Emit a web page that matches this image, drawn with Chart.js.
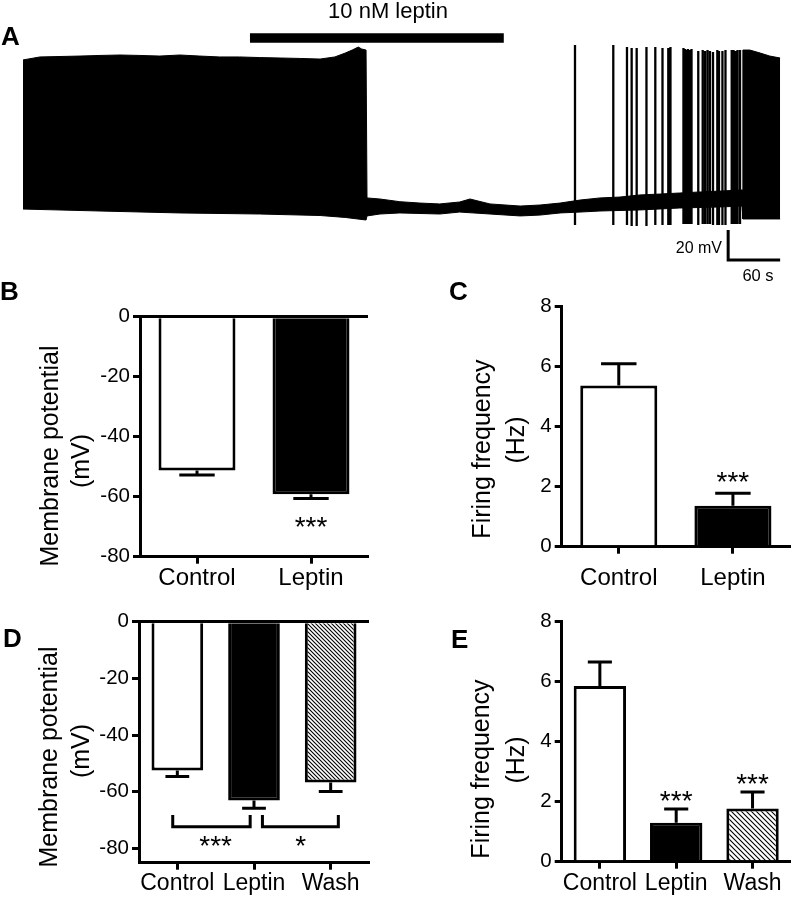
<!DOCTYPE html>
<html>
<head>
<meta charset="utf-8">
<script src="https://cdn.jsdelivr.net/npm/chart.js"></script>
<style>
  html, body { margin: 0; padding: 0; background: #fff; }
  #fig { position: relative; width: 794px; height: 900px; overflow: hidden;
         font-family: "Liberation Sans", Arial, sans-serif; color: #000; }
  #fig canvas { position: absolute; }
  .txt { position: absolute; line-height: 1; white-space: nowrap; }
</style>
</head>
<body>
<div id="fig">
  <canvas id="chartA" width="794" height="290" style="left:0;top:0"></canvas>
  <canvas id="chartB" width="400" height="320" style="left:0;top:280px"></canvas>
  <canvas id="chartC" width="394" height="320" style="left:400px;top:280px"></canvas>
  <canvas id="chartD" width="400" height="300" style="left:0;top:600px"></canvas>
  <canvas id="chartE" width="394" height="300" style="left:400px;top:600px"></canvas>
</div>
<script>
// ---- A: recording (time in s, potential in mV) ----
// upper edge of the trace
const topTime = [0, 19.6, 42.7, 65.8, 88.9, 112, 135, 158, 181, 204, 227, 250, 273, 297, 320, 343, 360, 372, 380, 387, 391, 396,
                 397.1, 412, 435, 458, 481, 504, 516, 539, 574, 597, 620, 643, 666, 689, 712, 735, 758, 782, 805, 830,
                 831, 839, 851, 862, 874];
const topMv = [38.7, 40.7, 41, 41.3, 41.7, 42, 41.7, 41.3, 42, 41.3, 40.7, 40.7, 40.3, 40, 39.7, 39.3, 40.7, 43.3, 45.3, 47.3, 46, 45.3,
               -53.3, -54, -55.8, -56.7, -57.3, -56, -54, -57.3, -58.7, -58, -56.7, -54.7, -53.3, -52.7, -51.3, -50.7, -50, -49.3, -48.7, -48,
               45.3, 45.3, 43.3, 41.3, 40];
// lower edge of the trace
const bottomTime = [0, 88.9, 181, 273, 343, 372, 396,
                    397.1, 412, 435, 481, 504, 539, 574, 597, 620, 643, 666, 712, 758, 805, 830,
                    831, 874];
const bottomMv = [-60.7, -62, -63.3, -64, -65, -66.3, -68,
                  -65.3, -64, -63.3, -64, -62.7, -64, -65.3, -64.7, -63.3, -62.7, -62, -61.3, -60, -59.3, -58.7,
                  -67.3, -67.3];
// single action potentials during recovery
const spikeTime = [637.2, 681.4, 697.2, 702.6, 708.4, 719.7, 729.9, 738.2, 744.9, 747.4,
                   762.4, 764.2, 765.9, 767.6, 769.4, 771.7, 779.5, 784.6, 787.3, 790.2, 793,
                   796.5, 801.5, 803.4, 807.4, 810.9, 818.1, 820.2, 822.5, 824.8, 827.7];
const spikePeak = [48.7, 48.7, 47.3, 46.7, 46.7, 47.3, 47.3, 46.7, 46.7, 47.3,
                   46.7, 46, 45.3, 46, 45.3, 46, 44.7, 45.3, 44.7, 45.3, 44.7,
                   44, 45.3, 44.7, 44.7, 45.3, 45.3, 45.3, 44.7, 45.3, 45.3];
const spikeTrough = [-71.3, -71.3, -71.3, -72, -72, -72, -71.3, -71.3, -71.3, -71.3,
                     -70.7, -70.7, -70.7, -70.7, -70.7, -70.7, -71.3, -70.7, -70.7, -70.7, -70.7,
                     -71.3, -71.3, -71.3, -71.3, -71.3, -70.7, -70.7, -70.7, -70.7, -70.7];
const leptinOn = [262, 555];        // s
const scaleBarTime = [814, 874];    // 60 s
const scaleBarMv = [-94.7, -74.7];  // 20 mV

// ---- B-E: group means and SEM ----
const labelsTwo = ['Control', 'Leptin'];
const labelsThree = ['Control', 'Leptin', 'Wash'];
const potentialB = [-51.3, -59.2];
const potentialSemB = [1.5, 1.4];
const freqC = [5.36, 1.36];
const freqSemC = [0.72, 0.42];
const potentialD = [-52.5, -63.1, -56.7];
const potentialSemD = [2.1, 2.7, 3.2];
const freqE = [5.86, 1.30, 1.77];
const freqSemE = [0.80, 0.46, 0.55];
const starsB = ['', '***'];
const starsC = ['', '***'];
const starsE = ['', '***', '***'];
const ticksPotential = [-80, -60, -40, -20, 0];
const ticksFreq = [0, 2, 4, 6, 8];

const FONT = '"Liberation Sans", Arial, sans-serif';
const STAR_FONT = '28px ' + FONT;
Chart.defaults.font.family = FONT;
Chart.defaults.color = '#000';

const fig = document.getElementById('fig');

function addText(text, x, baseline, size, align, bold) {
  const el = document.createElement('div');
  el.className = 'txt';
  el.textContent = text;
  el.style.fontSize = size + 'px';
  if (bold) el.style.fontWeight = 'bold';
  el.style.left = x + 'px';
  el.style.top = (baseline - 0.8465 * size) + 'px';
  const shift = align === 'center' ? '-50%' : align === 'right' ? '-100%' : '0';
  el.style.transform = 'translateX(' + shift + ')';
  fig.appendChild(el);
}

function addVText(text, baselineX, centerY, size) {
  const el = document.createElement('div');
  el.className = 'txt';
  el.textContent = text;
  el.style.fontSize = size + 'px';
  el.style.left = (baselineX - 0.3465 * size) + 'px';
  el.style.top = centerY + 'px';
  el.style.transform = 'translate(-50%,-50%) rotate(-90deg)';
  fig.appendChild(el);
}

function hatch(canvasId, step) {
  const c = document.createElement('canvas');
  c.width = c.height = step;
  const g = c.getContext('2d');
  g.fillStyle = '#fff';
  g.fillRect(0, 0, step, step);
  g.strokeStyle = '#000';
  g.lineWidth = 1.1;
  g.beginPath();
  g.moveTo(-1, -1); g.lineTo(step + 1, step + 1);
  g.moveTo(-1, step - 1); g.lineTo(1, step + 1);
  g.moveTo(step - 1, -1); g.lineTo(step + 1, 1);
  g.stroke();
  return document.getElementById(canvasId).getContext('2d').createPattern(c, 'repeat');
}

// error bars + significance stars drawn through the chart's scales
function errorBarsPlugin(sems, stars, gap) {
  return {
    id: 'errorBars',
    afterDatasetsDraw(chart) {
      const ctx = chart.ctx, y = chart.scales.y;
      const vals = chart.data.datasets[0].data;
      const meta = chart.getDatasetMeta(0);
      ctx.save();
      ctx.strokeStyle = '#000';
      ctx.fillStyle = '#000';
      ctx.lineWidth = 3;
      ctx.font = STAR_FONT;
      ctx.textAlign = 'center';
      ctx.textBaseline = 'alphabetic';
      meta.data.forEach((bar, i) => {
        const dir = vals[i] < 0 ? -1 : 1;
        const end = y.getPixelForValue(vals[i] + dir * sems[i]);
        const half = bar.width * 0.23;
        ctx.beginPath();
        ctx.moveTo(bar.x, bar.y); ctx.lineTo(bar.x, end);
        ctx.moveTo(bar.x - half, end); ctx.lineTo(bar.x + half, end);
        ctx.stroke();
        if (stars && stars[i]) {
          ctx.fillText(stars[i], bar.x, end - dir * gap + 16);
        }
      });
      ctx.restore();
    }
  };
}

function bracketsPlugin(items) {
  return {
    id: 'brackets',
    afterDatasetsDraw(chart) {
      const ctx = chart.ctx, x = chart.scales.x, y = chart.scales.y;
      ctx.save();
      ctx.strokeStyle = '#000';
      ctx.fillStyle = '#000';
      ctx.lineWidth = 3;
      ctx.font = STAR_FONT;
      ctx.textAlign = 'center';
      items.forEach(b => {
        const x0 = x.getPixelForValue(b.from), x1 = x.getPixelForValue(b.to);
        const yl = y.getPixelForValue(b.level), yt = y.getPixelForValue(b.tip);
        ctx.beginPath();
        ctx.moveTo(x0, yt); ctx.lineTo(x0, yl); ctx.lineTo(x1, yl); ctx.lineTo(x1, yt);
        ctx.stroke();
        ctx.fillText(b.text, x.getPixelForValue(b.textX), y.getPixelForValue(b.textAt) + 16);
      });
      ctx.restore();
    }
  };
}

function barChart(id, labels, values, sems, fills, cfg) {
  return new Chart(document.getElementById(id), {
    type: 'bar',
    data: {
      labels: labels,
      datasets: [{
        data: values,
        backgroundColor: fills,
        borderColor: '#000',
        borderWidth: 3,
        categoryPercentage: 1,
        barPercentage: cfg.barPct
      }]
    },
    options: {
      responsive: false,
      animation: false,
      devicePixelRatio: 1,
      events: [],
      layout: { padding: { left: 0, top: cfg.top, right: cfg.right, bottom: 0 } },
      scales: {
        x: {
          offset: true,
          grid: { offset: false, drawOnChartArea: false, tickLength: 7, tickWidth: 3, tickColor: '#000' },
          border: { width: 3, color: '#000' },
          ticks: { font: { size: cfg.xFont }, padding: cfg.xPad, maxRotation: 0, autoSkip: false },
          afterFit: s => { s.height = cfg.xHeight; }
        },
        y: {
          min: cfg.min,
          max: cfg.max,
          afterBuildTicks: s => { s.ticks = cfg.ticks.map(v => ({ value: v })); },
          grid: {
            color: c => (cfg.zeroLine && c.tick && c.tick.value === 0) ? '#000' : 'rgba(0,0,0,0)',
            lineWidth: 3, tickLength: 7, tickWidth: 3, tickColor: '#000'
          },
          border: { width: 3, color: '#000' },
          ticks: { font: { size: 20.5 }, padding: 3, callback: v => String(v) },
          afterFit: s => { s.width = cfg.yWidth; }
        }
      },
      plugins: { legend: { display: false }, tooltip: { enabled: false } }
    },
    plugins: [errorBarsPlugin(sems, cfg.stars, cfg.gap), bracketsPlugin(cfg.brackets || [])]
  });
}

// ---- A ----
new Chart(document.getElementById('chartA'), {
  type: 'line',
  data: {
    datasets: [
      { data: topTime.map((t, i) => ({ x: t, y: topMv[i] })),
        borderColor: '#000', borderWidth: 1, backgroundColor: '#000', fill: '+1', pointRadius: 0 },
      { data: bottomTime.map((t, i) => ({ x: t, y: bottomMv[i] })),
        borderColor: '#000', borderWidth: 1, fill: false, pointRadius: 0 },
      { data: spikeTime.flatMap((t, i) => [{ x: t, y: spikeTrough[i] }, { x: t, y: spikePeak[i] }, { x: t, y: null }]),
        borderColor: '#000', borderWidth: 2.3, borderCapStyle: 'butt', fill: false, pointRadius: 0, spanGaps: false },
      { data: [{ x: leptinOn[0], y: 53.3 }, { x: leptinOn[1], y: 53.3 }],
        borderColor: '#000', borderWidth: 9.4, borderCapStyle: 'butt', fill: false, pointRadius: 0 },
      { data: [{ x: scaleBarTime[0], y: scaleBarMv[1] }, { x: scaleBarTime[0], y: scaleBarMv[0] }, { x: scaleBarTime[1], y: scaleBarMv[0] }],
        borderColor: '#000', borderWidth: 3, borderJoinStyle: 'miter', borderCapStyle: 'butt', fill: false, pointRadius: 0 }
    ]
  },
  options: {
    responsive: false,
    animation: false,
    devicePixelRatio: 1,
    events: [],
    layout: { padding: { left: 23, right: 13, top: 28, bottom: 28 } },
    scales: {
      x: { type: 'linear', min: 0, max: 875, display: false },
      y: { min: -96, max: 60, display: false }
    },
    plugins: { legend: { display: false }, tooltip: { enabled: false } }
  }
});

// ---- B ----
barChart('chartB', labelsTwo, potentialB, potentialSemB, ['#fff', '#000'], {
  barPct: 0.675, top: 36.7, right: 32, xHeight: 43.3, yWidth: 140, xPad: 0.5, xFont: 24,
  min: -80, max: 0, ticks: ticksPotential, zeroLine: true, stars: starsB, gap: 21.7
});

// ---- C ----
barChart('chartC', labelsTwo, freqC, freqSemC, ['#fff', '#000'], {
  barPct: 0.675, top: 26, right: 4, xHeight: 53.3, yWidth: 161.7, xPad: 10.5, xFont: 24,
  min: 0, max: 8, ticks: ticksFreq, zeroLine: false, stars: starsC, gap: 18.6
});

// ---- D ----
barChart('chartD', labelsThree, potentialD, potentialSemD, ['#fff', '#000', hatch('chartD', 4)], {
  barPct: 0.674, top: 21.7, right: 31, xHeight: 37.3, yWidth: 139, xPad: 0.5, xFont: 23,
  min: -85, max: 0, ticks: ticksPotential, zeroLine: true, stars: null, gap: 0,
  brackets: [
    { from: -0.06, to: 0.95, level: -72.3, tip: -68.2, text: '***', textX: 0.5, textAt: -76.7 },
    { from: 1.11, to: 2.1, level: -72.3, tip: -68.2, text: '*', textX: 1.61, textAt: -76.7 }
  ]
});

// ---- E ----
barChart('chartE', labelsThree, freqE, freqSemE, ['#fff', '#000', hatch('chartE', 5)], {
  barPct: 0.686, top: 21.7, right: 3.3, xHeight: 38.3, yWidth: 161.7, xPad: 1, xFont: 23,
  min: 0, max: 8, ticks: ticksFreq, zeroLine: false, stars: starsE, gap: 15
});

// ---- text ----
addText('A', 1, 45, 26, 'left', true);
addText('B', 0, 300, 26, 'left', true);
addText('C', 449, 300, 26, 'left', true);
addText('D', 3, 647, 26, 'left', true);
addText('E', 451, 648, 26, 'left', true);
addText('10 nM leptin', 388, 18.3, 22, 'center');
addText('20 mV', 722, 254, 16, 'right');
addText('60 s', 758, 281, 16.5, 'center');

addVText('Membrane potential', 57.3, 456, 25);
addVText('(mV)', 88.3, 461, 25);
addVText('Firing frequency', 490, 448.5, 25);
addVText('(Hz)', 523.3, 440, 25);
addVText('Membrane potential', 56.7, 757, 25);
addVText('(mV)', 88.3, 751, 25);
addVText('Firing frequency', 488.3, 769, 25);
addVText('(Hz)', 523.3, 760, 25);
</script>
</body>
</html>
